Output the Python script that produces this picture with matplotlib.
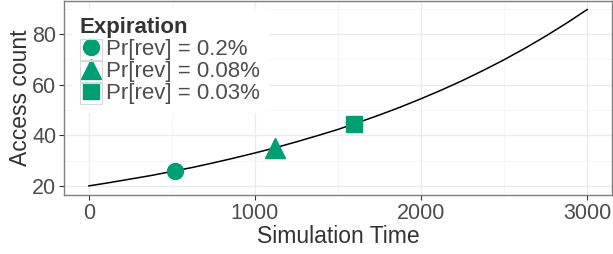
import matplotlib
matplotlib.use("Agg")
import matplotlib.pyplot as plt
from matplotlib.patches import Rectangle
from matplotlib.ticker import MultipleLocator

plt.rcParams['font.family'] = ['Liberation Sans', 'DejaVu Sans']

# curve
curve_x = [0, 125, 250, 375, 500, 625, 750, 875, 1000, 1125, 1250, 1375, 1500,
           1625, 1750, 1875, 2000, 2125, 2250, 2375, 2500, 2625, 2750, 2875, 3000]
curve_y = [20.0, 21.3, 22.7, 24.1, 25.7, 27.3, 29.1, 31.0, 33.0, 35.1, 37.4, 39.8,
           42.3, 45.1, 48.0, 51.1, 54.4, 57.9, 61.6, 65.6, 69.8, 74.3, 79.1, 84.2, 89.6]

# expiration points
labels = ["Pr[rev] = 0.2%", "Pr[rev] = 0.08%", "Pr[rev] = 0.03%"]
point_x = [521, 1119, 1596]
point_y = [26.0, 35.0, 44.3]
markers = ["o", "^", "s"]
msizes = [11.5, 14, 12]

green = "#009E73"
grey_txt = "#4D4D4D"

fig = plt.figure(figsize=(6.13, 2.54), dpi=100)
ax = fig.add_axes([64 / 613, 1 - 195 / 254, 548 / 613, 194 / 254])

ax.plot(curve_x, curve_y, color="black", lw=1.1, zorder=3)
for lab, px, py, m, s in zip(labels, point_x, point_y, markers, msizes):
    ax.plot(px, py, marker=m, ms=s, color=green, ls="none", label=lab, zorder=4)

ax.set_xlim(-150, 3150)
ax.set_ylim(16.4, 93)
ax.xaxis.set_major_locator(MultipleLocator(1000))
ax.xaxis.set_minor_locator(MultipleLocator(500))
ax.yaxis.set_major_locator(MultipleLocator(20))
ax.yaxis.set_minor_locator(MultipleLocator(10))
ax.grid(which="major", color="#EBEBEB", lw=1.0)
ax.grid(which="minor", color="#F4F4F4", lw=0.6)
ax.set_axisbelow(True)

for s in ax.spines.values():
    s.set_color("#7F7F7F")
    s.set_linewidth(1.0)
ax.tick_params(which="major", length=3.5, color="#333333", labelsize=15.5,
               labelcolor=grey_txt, pad=2)
ax.tick_params(which="minor", length=0)

ax.set_xlabel("Simulation Time", fontsize=16.5, color="#333333", labelpad=1)
ax.set_ylabel("Access count", fontsize=16.5, color="#333333", labelpad=0)

fs = 16
hl, hpad = 1.0, 0.2
leg = ax.legend(loc="upper left", title="Expiration", fontsize=fs,
                title_fontproperties={"weight": "bold", "size": fs},
                frameon=True, fancybox=False, framealpha=1, edgecolor="white",
                handlelength=hl, handletextpad=hpad, labelspacing=0.05,
                borderpad=0.35, borderaxespad=0.35)
leg._legend_box.align = "left"
for t in leg.get_texts():
    t.set_color(grey_txt)
leg.get_title().set_color("#333333")

# grey key boxes like ggplot legend keys
fig.canvas.draw()
r = fig.canvas.get_renderer()
px_per_fs = fs * fig.dpi / 72
for t in leg.get_texts():
    bb = t.get_window_extent(r)
    yc = (bb.y0 + bb.y1) / 2
    xc = bb.x0 - hpad * px_per_fs - hl * px_per_fs / 2
    fig.add_artist(Rectangle((xc - 11, yc - 10.5), 22, 21, transform=None,
                             fill=False, edgecolor="#D9D9D9", lw=0.8, zorder=10))

fig.savefig("out.png", dpi=100)
